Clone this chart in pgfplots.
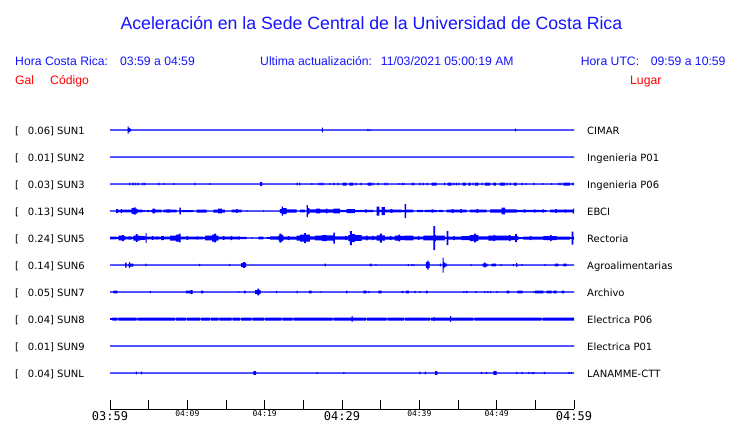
\documentclass[border=0pt]{standalone}
\usepackage{fontspec}
\setmainfont{Liberation Sans}
\newfontfamily\dejavu{DejaVu Sans}
\newfontfamily\dmono{DejaVu Sans Mono}
\usepackage{pgfplots}
\usepackage{pgfplotstable}
\pgfplotsset{compat=1.18}
\definecolor{tr}{RGB}{0,0,255}
\definecolor{hd}{RGB}{20,20,255}
\definecolor{rd}{RGB}{255,0,0}

% SUN1
\pgfplotstableread{
m a
0 .6
2.29 3.7
2.42 2.2
2.59 1.2
2.72 .6
27.41 2.3
27.54 .6
33.27 1.2
33.40 .6
33.57 1.0
33.68 .6
52.37 1.4
52.50 .6
60 .6
}\tabA
% SUN2
\pgfplotstableread{
m a
0 .6
60 .6
}\tabB
% SUN3
\pgfplotstableread{
m a
0 .6
2.50 1.3
2.63 .6
2.88 1.3
3.01 .6
3.19 1.3
3.32 .6
3.53 1.3
3.66 .6
4.18 1.3
4.31 .6
4.44 1.3
4.57 .6
6.25 1.3
6.38 .6
6.89 .9
7.02 .6
8.19 .9
8.32 .6
10.90 1.3
11.03 .6
12.84 .9
12.97 .6
19.40 2.2
19.66 .6
24.14 1.3
24.27 .6
24.44 1.3
24.57 .6
26.03 .9
26.16 .6
26.94 1.3
27.07 .6
27.19 1.3
27.32 .6
27.45 1.3
27.58 .6
28.36 .9
28.49 .6
28.87 1.3
29.00 .6
29.39 1.3
29.52 .6
30.09 1.5
30.61 .6
30.94 1.5
31.46 .6
31.72 1.3
31.85 .6
32.42 1.3
32.55 .6
33.32 1.5
33.84 .6
33.97 1.3
34.10 .6
34.62 1.3
34.75 .6
35.47 1.3
35.60 .6
35.78 1.3
35.91 .6
37.28 .9
37.41 .6
37.72 1.3
37.85 .6
38.01 .9
38.14 .6
39.01 1.3
39.14 .6
39.22 1.3
39.35 .6
40.00 1.3
40.13 .6
40.43 1.3
40.56 .6
40.95 1.3
41.08 .6
41.60 1.5
42.25 .6
43.19 1.3
43.32 .6
43.67 1.5
44.19 .6
44.39 1.3
44.52 .6
44.74 1.3
44.87 .6
45.04 1.3
45.17 .6
45.61 1.5
46.03 .6
46.33 1.5
46.64 .6
46.90 1.3
47.03 .6
47.20 1.5
47.62 .6
48.06 1.3
48.19 .6
48.49 1.5
49.14 .6
49.56 1.5
49.91 .6
50.43 1.5
51.08 .6
51.30 1.3
51.43 .6
51.72 1.3
51.85 .6
52.24 1.5
52.59 .6
53.24 1.3
53.37 .6
53.75 .9
53.88 .6
54.74 1.3
54.87 .6
55.90 .9
56.03 .6
57.03 .9
57.16 .6
57.97 1.3
58.10 .6
58.28 1.3
58.41 .6
58.62 1.5
59.48 .6
59.70 1.3
59.83 .6
59.91 1.3
60 1.3
}\tabC
% SUN4
\pgfplotstableread{
m a
0 .6
0.78 1.8
1.07 1.0
1.38 2.0
1.55 1.3
2.81 2.8
3.10 3.6
3.30 2.5
3.53 1.3
4.23 .6
4.31 .9
4.53 .6
4.75 1.0
5.08 .6
5.26 1.0
5.47 2.3
5.82 1.3
6.69 .6
6.89 1.3
7.33 1.7
7.76 1.3
8.62 .6
8.96 3.3
9.18 .6
9.27 1.0
10.77 .6
11.21 1.5
12.50 .6
13.36 1.5
13.97 2.3
14.48 1.5
14.87 .6
15.74 1.3
16.30 1.8
16.50 1.3
17.03 .6
17.68 .9
17.75 .6
19.82 .9
19.91 .6
21.98 2.0
22.18 4.5
22.37 3.0
22.85 1.7
24.14 .6
24.57 1.3
25.22 .6
25.44 6.0
25.60 3.0
25.77 1.7
26.64 2.3
27.16 1.7
27.90 2.3
28.10 1.7
28.87 2.3
29.74 1.2
30.61 2.0
31.68 1.0
32.33 1.2
33.00 1.6
33.20 1.2
34.05 .6
34.49 4.5
34.82 1.2
35.13 4.0
35.56 1.3
36.30 1.8
36.50 1.3
37.72 1.0
38.11 7.0
38.28 1.3
39.22 .6
39.70 1.1
40.50 .6
40.70 1.1
41.60 1.6
41.80 1.1
42.30 .6
42.50 1.1
43.06 .6
43.54 1.3
44.20 2.0
44.40 1.3
45.30 1.8
45.50 1.3
46.12 .6
46.55 1.3
47.40 1.8
47.60 1.3
48.71 .6
49.14 1.7
50.65 3.3
51.08 1.7
52.59 1.2
53.50 1.7
53.70 1.2
54.80 1.6
55.00 1.2
55.90 1.6
56.10 1.2
56.47 .6
56.90 1.3
57.60 1.8
57.80 1.3
58.80 1.6
59.00 1.3
59.87 2.5
60 2.5
}\tabD
% SUN5
\pgfplotstableread{
m a
0 1.3
0.87 .9
1.07 2.3
1.55 3.0
1.81 2.0
1.94 1.3
2.37 1.7
2.81 1.2
3.01 2.5
3.36 3.8
3.56 2.5
3.88 1.8
4.53 .9
4.62 4.8
4.75 1.3
5.40 1.8
5.60 1.3
6.00 1.6
6.20 1.3
6.47 .9
6.59 2.0
6.98 1.3
7.76 2.5
8.53 3.5
8.92 4.3
9.14 1.3
9.90 1.8
10.10 1.3
11.20 1.7
11.40 1.3
12.06 .8
12.28 2.3
13.19 3.5
13.45 4.3
13.71 2.5
14.00 1.3
14.60 1.8
14.80 1.3
15.60 2.0
15.80 1.4
16.60 1.7
16.80 1.2
17.68 .6
18.32 .9
18.40 .6
19.18 1.3
19.82 .6
20.26 .8
20.69 1.7
21.76 2.5
21.89 4.5
22.18 3.0
22.41 1.5
23.00 2.0
23.20 1.5
24.14 2.5
24.57 3.5
25.09 5.0
25.34 3.5
25.86 1.7
26.51 2.3
27.41 3.0
28.02 2.7
28.87 5.5
29.09 1.7
30.39 2.2
30.61 1.7
30.81 3.0
31.03 7.0
31.29 4.0
31.68 2.8
32.55 1.7
33.10 2.3
33.30 1.7
33.90 2.1
34.10 1.7
34.49 2.7
34.91 4.5
35.17 2.7
35.56 1.5
36.20 2.0
36.40 1.5
36.85 2.5
37.30 3.3
37.50 2.2
38.15 2.3
39.22 1.3
39.80 1.8
40.00 1.3
40.51 2.3
41.81 12
42.03 3
42.15 2.3
43.32 .8
43.54 7
43.75 1.5
44.40 2.0
44.60 1.5
45.48 2.0
46.55 3.0
47.07 4.3
47.33 3.0
47.62 1.7
48.92 2.5
49.60 3.2
49.80 2.3
50.86 2.3
51.60 3.0
51.80 2.0
52.40 4.0
52.60 2.0
52.80 1.0
53.44 1.5
54.30 2.0
54.50 1.5
56.03 2.0
56.90 3.0
57.10 2.0
57.76 1.5
59.48 .9
59.70 6.5
59.91 1.5
60 1.5
}\tabE
% SUN6
\pgfplotstableread{
m a
0 .6
1.94 2.5
2.16 .6
2.37 1.5
2.46 3.0
2.59 1.5
3.01 .6
4.56 1.3
4.69 .6
11.51 1.2
11.64 .6
15.39 1.2
15.52 .6
16.94 2.0
17.20 2.8
17.46 1.8
17.59 .6
27.74 1.3
27.93 .6
33.62 1.3
33.84 .6
34.36 .9
34.46 .6
38.53 1.0
38.66 .6
38.96 1.0
39.09 .6
39.22 1.0
39.34 .6
40.86 3.0
41.03 4.5
41.21 3.0
41.34 .6
42.67 1.3
42.80 .6
43.02 7.5
43.15 3.0
43.26 1.7
43.54 .6
46.64 1.0
46.74 .6
48.19 1.5
48.36 2.3
48.56 1.5
48.79 .6
49.36 1.3
49.91 .6
50.52 1.0
50.63 .6
52.11 1.0
52.24 .6
52.50 1.8
52.67 .6
53.21 .9
53.31 .6
56.21 1.0
56.34 .6
57.54 1.3
57.97 .6
58.62 1.3
59.06 .6
60 .6
}\tabF
% SUN7
\pgfplotstableread{
m a
0 .6
0.43 1.3
0.94 .6
5.17 1.2
5.30 .6
9.83 1.3
10.44 2.0
10.69 .6
11.77 1.3
12.06 .6
16.59 .9
16.70 .6
17.33 1.3
17.55 .6
18.75 2.0
19.07 3.3
19.27 2.0
19.49 .6
21.47 1.1
21.60 .6
24.12 1.3
24.25 .6
25.73 1.3
26.08 .6
27.22 .9
27.33 .6
30.52 1.3
30.69 .6
32.75 1.3
33.19 .6
33.40 1.2
33.53 .6
34.69 1.3
35.13 .6
37.72 1.2
37.93 .6
38.28 1.3
38.66 .6
39.35 1.2
39.53 .6
40.00 .9
40.13 .6
40.86 1.3
41.08 .6
45.69 .9
45.82 .6
46.03 1.2
46.20 .6
47.29 1.2
47.42 .6
48.40 1.0
48.53 .6
48.79 1.0
48.92 .6
49.14 1.0
49.27 .6
50.00 1.2
50.13 .6
51.30 1.3
51.63 .6
52.67 1.3
53.36 .6
54.74 .9
54.87 .6
54.96 1.3
56.03 .6
56.47 1.3
57.11 .6
57.32 1.3
57.76 .6
58.41 1.3
58.71 .6
60 .6
}\tabG
% SUN8
\pgfplotstableread{
m a
0 .9
0.30 1.5
0.94 .6
1.07 1.5
3.45 .6
3.58 1.5
8.41 .6
8.54 1.5
9.83 .6
9.96 1.5
11.64 .6
11.77 1.5
12.93 .6
13.06 1.5
14.00 .6
14.13 1.5
15.74 .6
15.87 1.5
16.81 .6
16.94 1.5
18.32 .6
18.45 1.5
19.91 .6
20.04 1.5
22.20 .6
22.33 1.5
23.62 .6
23.75 1.5
28.80 .6
28.93 1.5
31.25 2.8
31.38 1.5
33.10 .6
33.23 1.5
35.78 .6
35.91 1.5
38.02 .6
38.15 1.5
41.38 .6
41.51 1.5
41.86 2.2
41.99 1.5
43.97 2.8
44.10 1.5
46.98 .6
47.11 1.5
55.82 .6
55.95 1.5
60 1.5
}\tabH
% SUN9
\pgfplotstableread{
m a
0 .6
60 .6
}\tabI
% SUNL
\pgfplotstableread{
m a
0 .6
3.36 1.3
3.49 .6
4.01 1.3
4.14 .6
18.53 1.8
18.88 .6
26.73 .9
26.86 .6
30.17 .9
30.30 .6
40.00 1.3
40.13 .6
40.73 1.3
40.86 .6
42.03 1.8
42.32 .6
47.97 1.2
48.10 .6
48.62 .9
48.75 .6
49.56 1.8
50.00 .6
52.50 1.2
52.63 .6
53.24 1.2
53.37 .6
54.09 1.2
54.22 .6
54.53 1.0
54.66 .6
54.74 1.0
54.87 .6
56.12 1.2
56.25 .6
59.26 .9
59.39 .6
59.61 .9
59.74 .6
60 .6
}\tabJ

\newcommand{\trace}[2]{%
  \begin{axis}[at={(110pt,-#2pt)}, anchor=west, scale only axis,
    width=464pt, height=27pt, xmin=0, xmax=60, ymin=-13.5, ymax=13.5,
    hide axis, clip=false]
  \addplot[fill=tr, draw=none, const plot] table[x=m, y=a] {#1} \closedcycle;
  \addplot[fill=tr, draw=none, const plot] table[x=m, y expr=-\thisrow{a}] {#1} \closedcycle;
  \end{axis}%
}
\newcommand{\bt}[1]{{\dmono\fontsize{12}{12}\selectfont #1}}
\newcommand{\st}[1]{\raisebox{4.7pt}{\dmono\fontsize{8}{8}\selectfont #1}}
\newcommand{\hdfont}{\fontsize{12.2}{14}\selectfont}
\newcommand{\rl}[4]{%
  \node[anchor=base west, inner sep=0pt, font=\dejavu\fontsize{10}{12}\selectfont] at (15pt,-#1pt) {[};
  \node[anchor=base west, inner sep=0pt, font=\dejavu\fontsize{10}{12}\selectfont] at (27.7pt,-#1pt) {#2] #3};
  \node[anchor=base west, inner sep=0pt, font=\dejavu\fontsize{10}{12}\selectfont] at (587pt,-#1pt) {#4};
}

\begin{document}
\begin{tikzpicture}
\useasboundingbox[fill=white] (0pt,0pt) rectangle (740pt,-423pt);
% header
\node[anchor=base, inner sep=0pt, text=hd, font=\fontsize{17.7}{20}\selectfont] at (371.4pt,-30pt) {Aceleración en la Sede Central de la Universidad de Costa Rica};
\node[anchor=base west, inner sep=0pt, text=hd, font=\hdfont] at (15pt,-65pt) {Hora Costa Rica:};
\node[anchor=base west, inner sep=0pt, text=hd, font=\hdfont] at (120pt,-65pt) {03:59 a 04:59};
\node[anchor=base west, inner sep=0pt, text=hd, font=\hdfont] at (260pt,-65pt) {Ultima actualización:};
\node[anchor=base west, inner sep=0pt, text=hd, font=\hdfont] at (380.7pt,-65pt) {11/03/2021 05:00:19 AM};
\node[anchor=base west, inner sep=0pt, text=hd, font=\hdfont] at (580.7pt,-65pt) {Hora UTC:};
\node[anchor=base west, inner sep=0pt, text=hd, font=\hdfont] at (650.7pt,-65pt) {09:59 a 10:59};
\node[anchor=base west, inner sep=0pt, text=rd, font=\hdfont] at (15pt,-84.3pt) {Gal};
\node[anchor=base west, inner sep=0pt, text=rd, font=\hdfont] at (50pt,-84.3pt) {Código};
\node[anchor=base west, inner sep=0pt, text=rd, font=\hdfont] at (630pt,-84.3pt) {Lugar};
% row labels
\rl{134.3}{0.06}{SUN1}{CIMAR}
\rl{161.3}{0.01}{SUN2}{Ingenieria P01}
\rl{188.3}{0.03}{SUN3}{Ingenieria P06}
\rl{215.3}{0.13}{SUN4}{EBCI}
\rl{242.3}{0.24}{SUN5}{Rectoria}
\rl{269.3}{0.14}{SUN6}{Agroalimentarias}
\rl{296.3}{0.05}{SUN7}{Archivo}
\rl{323.3}{0.04}{SUN8}{Electrica P06}
\rl{350.3}{0.01}{SUN9}{Electrica P01}
\rl{377.3}{0.04}{SUNL}{LANAMME-CTT}
% traces
\trace{\tabA}{130}
\trace{\tabB}{157}
\trace{\tabC}{184}
\trace{\tabD}{211}
\trace{\tabE}{238}
\trace{\tabF}{265}
\trace{\tabG}{292}
\trace{\tabH}{319}
\trace{\tabI}{346}
\trace{\tabJ}{373}
% time axis
\begin{axis}[
  at={(110pt,-409pt)}, anchor=south west,
  scale only axis, width=464pt, height=20pt,
  xmin=0, xmax=60, ymin=0, ymax=1,
  axis x line*=bottom, hide y axis,
  clip=false,
  axis line style={black, line width=1pt},
  xtick={0,10,...,60}, minor xtick={5,15,...,55},
  tick align=inside, major tick length=9pt, minor tick length=9pt,
  every tick/.style={black, line width=1pt},
  xticklabels={\bt{03:59},\st{04:09},\st{04:19},\bt{04:29},\st{04:39},\st{04:49},\bt{04:59}},
  xticklabel style={anchor=base, inner sep=0pt, yshift=-11.7pt},
]
\addplot[draw=none] coordinates {(0,0) (60,0)};
\end{axis}
\end{tikzpicture}
\end{document}
